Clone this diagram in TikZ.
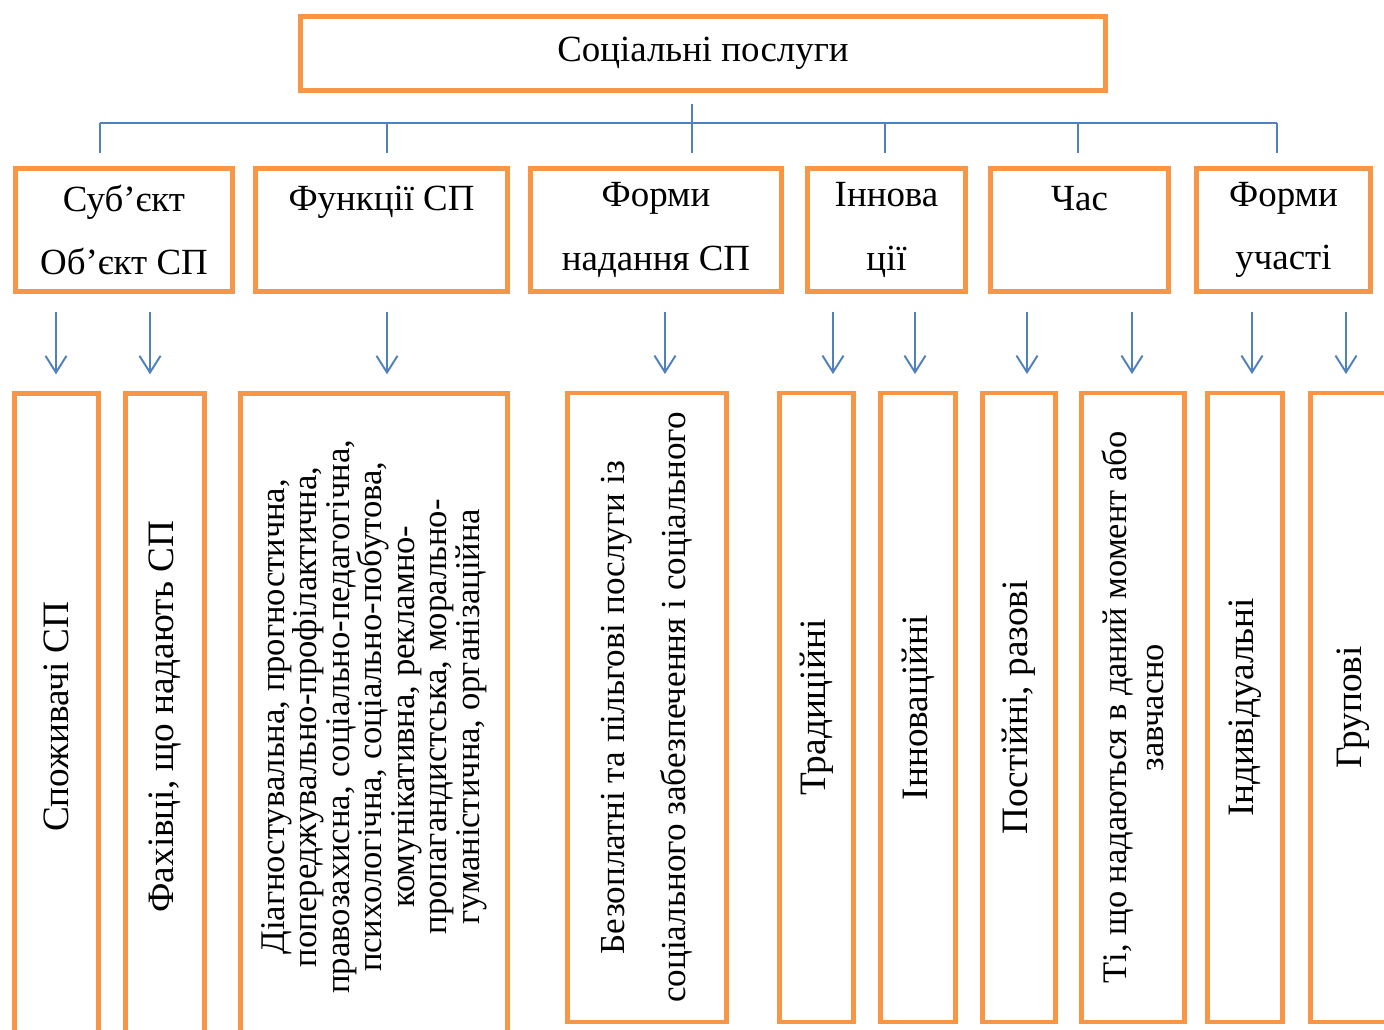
\documentclass[tikz,border=0pt]{standalone}
\usepackage{fontspec}
\setmainfont{Liberation Serif}
\usetikzlibrary{arrows.meta}
\definecolor{boxorange}{HTML}{F79646}
\definecolor{linkblue}{HTML}{4F81BD}
\newcommand{\fs}[2]{\fontsize{#1}{#2}\selectfont}

\begin{document}
\begin{tikzpicture}[x=0.02cm,y=-0.02cm,
	box/.style={draw=boxorange,line width=2.8pt,inner sep=0pt,align=center},
	boxsize/.style 2 args={minimum width=#1*0.02cm,minimum height=#2*0.02cm},
	head/.style={box,font=\fs{21}{36}},
	leaf/.style={box,rotate=90,font=\fs{21.2}{25}},
	link/.style={draw=linkblue,line width=1.1pt},
	arr/.style={link,-{Straight Barb[length=9.5pt,width=12pt]},shorten >=0.33cm}]
	\clip (0,0) rectangle (1384,1029);
	\node[box,boxsize={805}{74},font=\fs{21}{25}] (top) at (703,53.5) {Соціальні послуги};

	\node[head,boxsize={217}{123}] (s1) at (124,230) {Суб’єкт\\Об’єкт СП};
	\node[head,boxsize={252}{123}] (s2) at (381.5,230) {Функції СП\\\phantom{П}};
	\node[head,boxsize={251}{123}] (s3) at (656,230) {Форми\\надання СП};
	\node[head,boxsize={158}{123}] (s4) at (886.5,230) {Іннова\\ції};
	\node[head,boxsize={178}{123}] (s5) at (1079.5,230) {Час\\\phantom{П}};
	\node[head,boxsize={174}{123}] (s6) at (1283.5,230) {Форми\\участі};

	\foreach \x [count=\i] in {100,387,692,885,1078,1277}
		\coordinate (j\i) at (\x,123);
	\draw[link,shorten <=0.23cm] (top.south -| j3) -- (j3);
	\draw[link] (j1) -- (j6);
	\foreach \i in {1,...,6}
		\draw[link,shorten >=0.27cm] (j\i) -- (j\i |- s\i.north);

	\node[leaf,boxsize={647}{84}] (b1) at (56.5,716.75) {Споживачі СП};
	\node[leaf,boxsize={647}{79}] (b2) at (165,716.75) {Фахівці, що надають СП};
	\node[leaf,boxsize={647}{267},font=\fs{19.7}{18.5}] (b3) at (374,716.75) {Діагностувальна, прогностична,\\попереджувально-профілактична,\\правозахисна, соціально-педагогічна,\\психологічна, соціально-побутова,\\комунікативна, рекламно-\\пропагандистська, морально-\\гуманістична, організаційна};
	\node[leaf,boxsize={629}{159},font=\fs{20}{35}] (b4) at (647,707.5) {Безоплатні та пільгові послуги із\\соціального забезпечення і соціального};
	\node[leaf,boxsize={629}{74}] (b5) at (816.5,707.5) {Традиційні};
	\node[leaf,boxsize={629}{75}] (b6) at (918,707.5) {Інноваційні};
	\node[leaf,boxsize={629}{73}] (b7) at (1019,707.5) {Постійні, разові};
	\node[leaf,boxsize={629}{103},font=\fs{19.6}{21}] (b8) at (1133,707.5) {Ті, що надаються в даний момент або\\завчасно};
	\node[leaf,boxsize={629}{75}] (b9) at (1245,707.5) {Індивідуальні};
	\node[leaf,boxsize={629}{85}] (b10) at (1353,707.5) {Групові};

	\foreach \x [count=\i] in {56,150,387,665,833,915,1027,1132,1252,1346}
		\coordinate (t\i) at (\x,312);
	\foreach \i in {1,...,10}
		\draw[arr] (t\i) -- (t\i |- b\i.east);
\end{tikzpicture}
\end{document}
